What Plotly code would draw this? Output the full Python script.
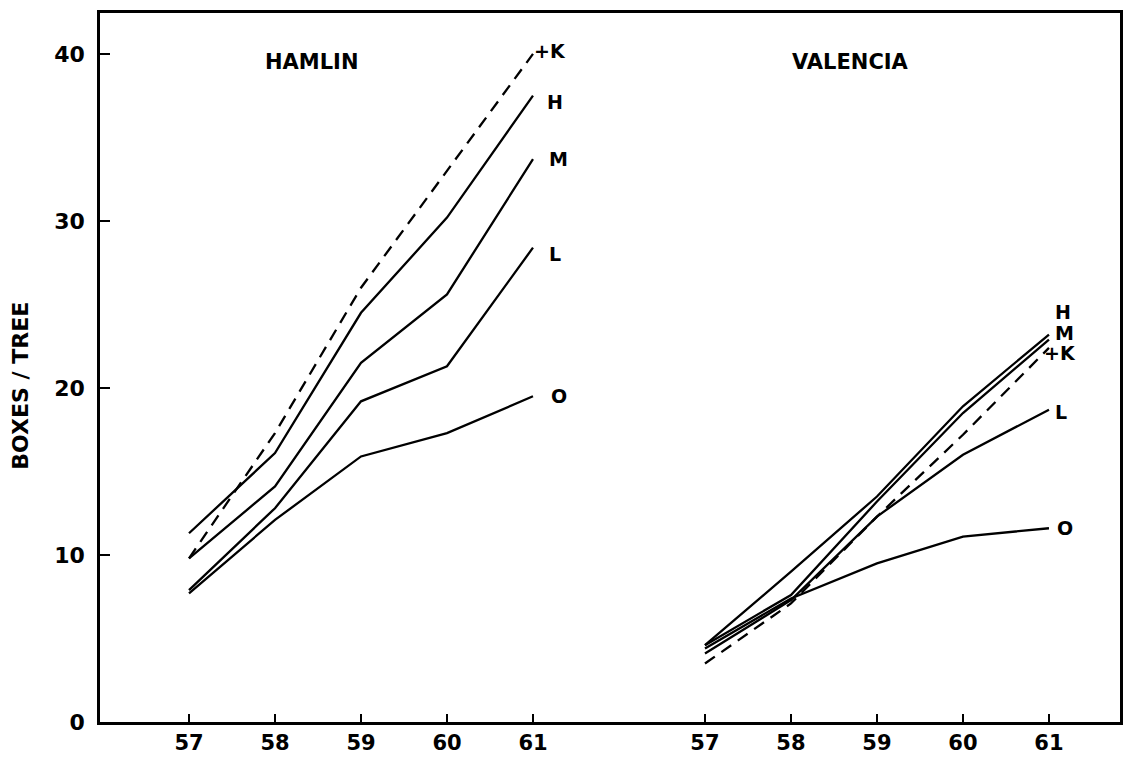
import plotly.graph_objects as go

# ---- data ----
years = ["57", "58", "59", "60", "61"]
groups = ["HAMLIN", "VALENCIA"]
group_offset = {"HAMLIN": 0, "VALENCIA": 6}

treatments = ["+K", "H", "M", "L", "O"]

hamlin = {
    "+K": [9.8, 17.3, 26.0, 33.0, 40.0],
    "H":  [11.3, 16.1, 24.5, 30.2, 37.5],
    "M":  [9.8, 14.1, 21.5, 25.6, 33.7],
    "L":  [7.9, 12.8, 19.2, 21.3, 28.4],
    "O":  [7.7, 12.1, 15.9, 17.3, 19.5],
}
valencia = {
    "+K": [3.5, 7.1, 12.3, 17.2, 22.4],
    "H":  [4.6, 9.0, 13.5, 18.9, 23.2],
    "M":  [4.6, 7.6, 13.2, 18.5, 22.9],
    "L":  [4.1, 7.3, 12.3, 16.0, 18.7],
    "O":  [4.4, 7.4, 9.5, 11.1, 11.6],
}
group_data = {"HAMLIN": hamlin, "VALENCIA": valencia}

y_ticks = [0, 10, 20, 30, 40]

# ---- styles (label offsets in pixels) ----
label_shift = {
    "HAMLIN": {"+K": (-1, 3), "H": (12, -6), "M": (14, 0), "L": (14, -6), "O": (16, 0)},
    "VALENCIA": {"+K": (-7, -5), "H": (4, 23), "M": (4, 7), "L": (4, -2), "O": (6, 0)},
}
FONT = "DejaVu Sans"

fig = go.Figure()
annotations = []
for g in groups:
    xs = [i + group_offset[g] for i in range(len(years))]
    for t in treatments:
        ys = group_data[g][t]
        fig.add_trace(go.Scatter(
            x=xs, y=ys, mode="lines", name=f"{g} {t}", showlegend=False,
            line=dict(color="black", width=2.3,
                      dash="12px,8px" if t == "+K" else "solid"),
        ))
        dx, dy = label_shift[g][t]
        annotations.append(dict(
            x=xs[-1], y=ys[-1], xref="x", yref="y", text=t, showarrow=False,
            xanchor="left", yanchor="middle", xshift=dx, yshift=dy,
            font=dict(family=FONT, size=19, weight="bold", color="black"),
        ))

# group titles
annotations.append(dict(x=1.43, y=39.5, xref="x", yref="y", text="HAMLIN",
                        showarrow=False,
                        font=dict(family=FONT, size=21, weight="bold", color="black")))
annotations.append(dict(x=7.69, y=39.5, xref="x", yref="y", text="VALENCIA",
                        showarrow=False,
                        font=dict(family=FONT, size=21, weight="bold", color="black")))
# y axis title
annotations.append(dict(x=-0.078, y=0.475, xref="paper", yref="paper",
                        xanchor="center", yanchor="middle",
                        text="BOXES / TREE", showarrow=False, textangle=-90,
                        font=dict(family=FONT, size=22, weight="bold", color="black")))

tickvals = []
ticktext = []
for g in groups:
    for i, yr in enumerate(years):
        tickvals.append(i + group_offset[g])
        ticktext.append(yr)

fig.update_layout(
    width=1139, height=757,
    margin=dict(l=100, r=19, t=13, b=35, autoexpand=False),
    paper_bgcolor="white", plot_bgcolor="white",
    annotations=annotations,
    xaxis=dict(range=[-1.035, 10.826], tickvals=tickvals, ticktext=ticktext,
               automargin=False,
               showgrid=False, zeroline=False, showline=True, mirror=True,
               linecolor="black", linewidth=2.5, ticks="inside", ticklen=8,
               tickwidth=2, tickcolor="black", ticklabelstandoff=0,
               tickfont=dict(family=FONT, size=21, weight="bold", color="black")),
    yaxis=dict(range=[0, 42.45], tickvals=y_ticks, automargin=False,
               showgrid=False, zeroline=False, showline=True, mirror=True,
               linecolor="black", linewidth=2.5, ticks="inside", ticklen=10,
               tickwidth=2, tickcolor="black", ticklabelstandoff=8,
               tickfont=dict(family=FONT, size=22, weight="bold", color="black")),
)

fig.write_html("out.html", config={"displayModeBar": False},
               post_script="document.body.style.margin='0';document.body.style.overflow='hidden';")
